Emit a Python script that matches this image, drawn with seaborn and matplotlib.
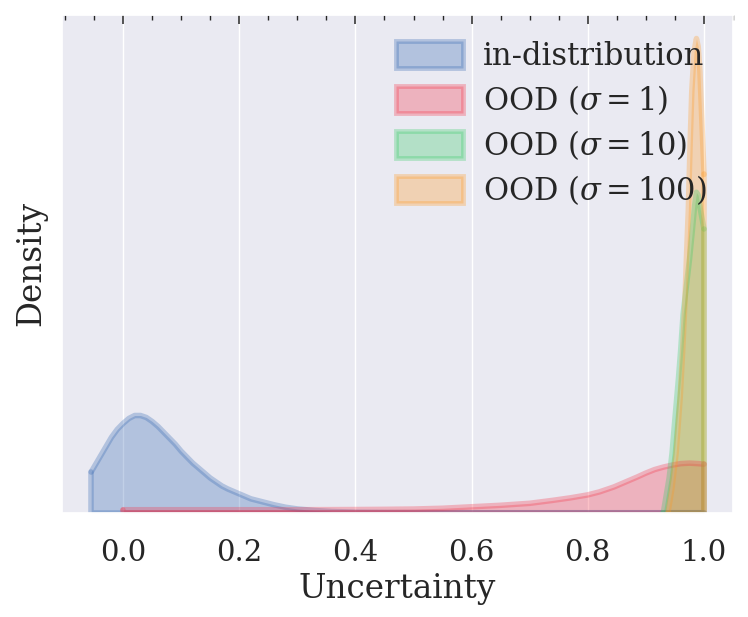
import numpy as np
import matplotlib
matplotlib.use("Agg")
import matplotlib.pyplot as plt
from matplotlib.patches import Patch
from matplotlib.ticker import MultipleLocator
import seaborn as sns

# density curves (x = uncertainty, y = density)
labels = ["in-distribution", r"OOD ($\sigma = 1$)", r"OOD ($\sigma = 10$)", r"OOD ($\sigma = 100$)"]
colors = ["#3366b0", "#f53246", "#36cc66", "#ff9a23"]

x_in = [-0.055, -0.05, -0.04, -0.03, -0.02, -0.01, 0.0, 0.01, 0.02, 0.03, 0.04, 0.05,
        0.06, 0.07, 0.08, 0.09, 0.10, 0.11, 0.12, 0.13, 0.14, 0.15, 0.16, 0.17, 0.18,
        0.20, 0.22, 0.24, 0.26, 0.28, 0.30, 0.33, 0.36, 0.40, 0.45, 0.50, 0.60, 1.0]
y_in = [4.1, 4.6, 5.6, 6.6, 7.6, 8.4, 9.0, 9.5, 9.8, 9.8, 9.6, 9.2,
        8.7, 8.1, 7.5, 6.9, 6.2, 5.6, 5.0, 4.5, 4.0, 3.5, 3.1, 2.7, 2.4,
        1.9, 1.4, 1.1, 0.8, 0.55, 0.38, 0.22, 0.12, 0.06, 0.03, 0.01, 0.0, 0.0]

x_s1 = [0.0, 0.1, 0.2, 0.3, 0.4, 0.45, 0.5, 0.55, 0.6, 0.65, 0.7, 0.74, 0.77, 0.8,
        0.82, 0.845, 0.865, 0.885, 0.9, 0.915, 0.93, 0.945, 0.96, 0.975, 0.99, 1.0]
y_s1 = [0.3, 0.3, 0.3, 0.3, 0.32, 0.34, 0.37, 0.45, 0.6, 0.75, 0.95, 1.25, 1.5, 1.8,
        2.1, 2.6, 3.1, 3.6, 4.0, 4.35, 4.6, 4.8, 4.95, 5.0, 4.95, 4.9]

x_s10 = [0.93, 0.94, 0.945, 0.95, 0.956, 0.96, 0.964, 0.97, 0.975, 0.98, 0.984, 0.987,
         0.99, 0.994, 1.0]
y_s10 = [0.0, 3.5, 6.0, 9.5, 13.5, 16.5, 20.0, 23.0, 25.5, 28.5, 31.0, 32.3,
         32.0, 30.5, 28.6]

x_s100 = [0.938, 0.945, 0.952, 0.959, 0.963, 0.967, 0.970, 0.973, 0.976, 0.979, 0.983,
          0.987, 0.990, 0.993, 0.996, 1.0]
y_s100 = [0.0, 2.5, 6.0, 11.6, 16.0, 21.0, 26.0, 30.5, 37.0, 42.5, 46.5,
          47.8, 47.0, 44.5, 40.0, 34.1]

series = [(x_in, y_in), (x_s1, y_s1), (x_s10, y_s10), (x_s100, y_s100)]

sns.set_theme(style="darkgrid", font="DejaVu Serif")
plt.rcParams["font.family"] = ["DejaVu Serif"]
plt.rcParams["mathtext.fontset"] = "dejavuserif"

fig = plt.figure(figsize=(7.48, 6.17), dpi=100)
ax = fig.add_axes([0.083, 0.169, 0.897, 0.807])

line_kw = dict(sort=False, estimator=None, alpha=0.3, linewidth=4, ax=ax,
               solid_joinstyle="round", solid_capstyle="round")
for (xs, ys), c in zip(series, colors):
    xs = np.asarray(xs)
    ys = np.asarray(ys)
    ax.fill_between(xs, ys, color=c, alpha=0.3, linewidth=0)
    # density curve, then the closing edges down to the baseline
    sns.lineplot(x=xs, y=ys, color=c, **line_kw)
    sns.lineplot(x=[xs[-1], xs[-1], xs[0], xs[0]], y=[ys[-1], 0, 0, ys[0]],
                 color=c, **line_kw)

ax.set_xlim(-0.105, 1.05)
ax.set_ylim(0, max(y_s100) * 1.05)
ax.set_yticks([])
ax.xaxis.set_major_locator(MultipleLocator(0.2))
ax.xaxis.set_minor_locator(MultipleLocator(0.05))
ax.grid(which="minor", visible=False)
ax.tick_params(axis="x", which="both", bottom=False, top=True, direction="in",
               labelbottom=True, labeltop=False, colors=".15", labelsize=21, pad=19)
ax.tick_params(axis="x", which="major", length=6.5, width=1.1)
ax.tick_params(axis="x", which="minor", length=3.5, width=1.0)
ax.set_xlabel("Uncertainty", fontsize=23.5)
ax.set_ylabel("Density", fontsize=23.5, labelpad=11)

handles = [Patch(facecolor=c, edgecolor=c, alpha=0.3, linewidth=3.5) for c in colors]
ax.legend(handles, labels, loc="upper right", frameon=False, fontsize=22,
          handlelength=2.2, handleheight=1.0, labelspacing=0.36, handletextpad=0.65,
          borderaxespad=0.45)

fig.savefig("out.png", dpi=100)
